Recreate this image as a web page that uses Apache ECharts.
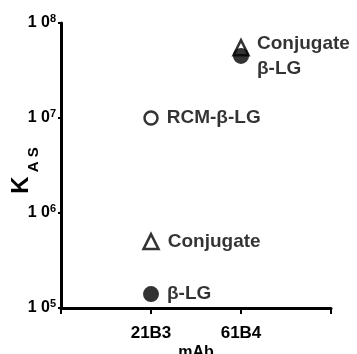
<!DOCTYPE html>
<html>
<head>
<meta charset="utf-8">
<script src="https://cdn.jsdelivr.net/npm/echarts@6.0.0/dist/echarts.min.js"></script>
<style>
  html, body { margin: 0; padding: 0; background: #fff; }
  #chart { width: 357px; height: 354px; }
</style>
</head>
<body>
<div id="chart"></div>
<script>
var chartDom = document.getElementById('chart');
var myChart = echarts.init(chartDom);

// x positions: 1 = 21B3, 2 = 61B4
const categories = ['', '21B3', '61B4', ''];
const triangleData = [[1, 5e5], [2, 5.5e7]];
const triangleLabels = ['Conjugate', ''];
const openCircleData = [[1, 1e7]];
const openCircleLabels = ['RCM-\u03b2-LG'];
const filledCircleData = [[1, 1.4e5], [2, 4.5e7]];
const filledCircleLabels = ['\u03b2-LG', 'Conjugate\n\u03b2-LG'];

const font = 'Liberation Sans, Arial, sans-serif';

function labelOf(list) {
  return {
    show: true,
    position: 'right',
    distance: 8,
    fontFamily: font,
    fontWeight: 'bold',
    fontSize: 19,
    lineHeight: 25,
    color: '#000',
    formatter: (p) => list[p.dataIndex]
  };
}

const option = {
  animation: false,
  grid: { left: 61, right: 26, top: 23, bottom: 46, outerBoundsMode: 'none', containLabel: false },
  xAxis: {
    type: 'value',
    min: 0,
    max: 3,
    interval: 1,
    name: 'mAb',
    nameLocation: 'middle',
    nameGap: 37,
    nameMoveOverlap: false,
    nameTextStyle: { fontFamily: font, fontWeight: 'bold', fontSize: 16, color: '#000' },
    splitLine: { show: false },
    axisLine: { lineStyle: { color: '#000', width: 3 } },
    axisTick: { length: 6, lineStyle: { color: '#000', width: 2 } },
    axisLabel: {
      margin: 17,
      fontFamily: font,
      fontWeight: 'bold',
      fontSize: 17,
      color: '#000',
      formatter: (v) => categories[v] || ''
    }
  },
  yAxis: {
    type: 'log',
    logBase: 10,
    min: 1e5,
    max: 1e8,
    name: '{k|K}{s|A S}',
    nameLocation: 'middle',
    nameRotate: 90,
    nameGap: 20,
    nameMoveOverlap: false,
    nameTextStyle: {
      rich: {
        k: { fontFamily: font, fontWeight: 'bold', fontSize: 24, color: '#000', padding: [0, 0, 8, 0] },
        s: { fontFamily: font, fontWeight: 'bold', fontSize: 15, color: '#000', verticalAlign: 'bottom', padding: [0, 10, 0, 4] }
      }
    },
    splitLine: { show: false },
    axisLine: { show: true, lineStyle: { color: '#000', width: 3 } },
    axisTick: { show: true, length: 3, lineStyle: { color: '#000', width: 2 } },
    minorTick: { show: false },
    axisLabel: {
      margin: 5,
      formatter: (v) => '{b|1 0}{e|' + Math.round(Math.log10(v)) + '}',
      rich: {
        b: { fontFamily: font, fontWeight: 'bold', fontSize: 16, color: '#000' },
        e: { fontFamily: font, fontWeight: 'bold', fontSize: 11, color: '#000', verticalAlign: 'top', padding: [0, 0, 8, 0] }
      }
    }
  },
  series: [
    {
      name: 'Conjugate',
      type: 'scatter',
      symbol: 'triangle',
      symbolSize: 15,
      itemStyle: { color: '#fff', borderColor: '#000', borderWidth: 2.5 },
      label: labelOf(triangleLabels),
      data: triangleData,
      z: 2
    },
    {
      name: 'RCM-\u03b2-LG',
      type: 'scatter',
      symbol: 'circle',
      symbolSize: 13,
      itemStyle: { color: '#fff', borderColor: '#000', borderWidth: 2.5 },
      label: labelOf(openCircleLabels),
      data: openCircleData,
      z: 2
    },
    {
      name: '\u03b2-LG',
      type: 'scatter',
      symbol: 'circle',
      symbolSize: 16,
      itemStyle: { color: '#000' },
      label: labelOf(filledCircleLabels),
      data: filledCircleData,
      z: 3
    }
  ]
};

myChart.setOption(option);
</script>
</body>
</html>
